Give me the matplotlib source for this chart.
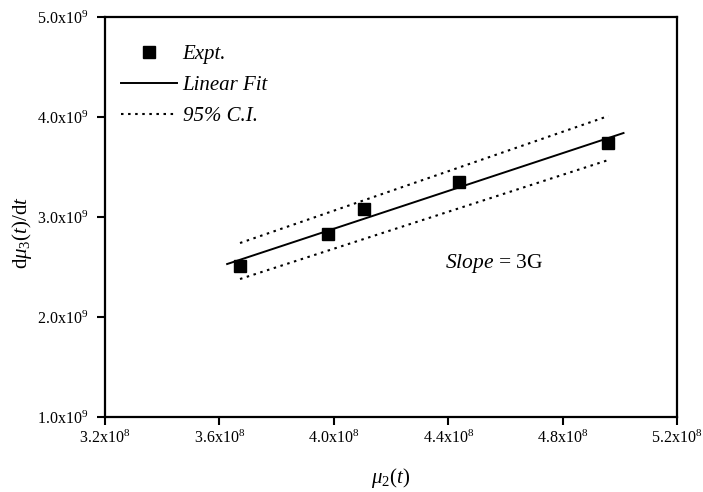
import matplotlib
matplotlib.use("Agg")
import matplotlib.pyplot as plt

plt.rcParams["font.family"] = ["Liberation Serif", "DejaVu Serif"]
plt.rcParams["mathtext.fontset"] = "custom"
plt.rcParams["mathtext.rm"] = "Liberation Serif"
plt.rcParams["mathtext.it"] = "Liberation Serif:italic"

# measured second moment and growth rate of the third moment
mu2 = [3.672e8, 3.980e8, 4.106e8, 4.439e8, 4.960e8]
dmu3_dt = [2.51e9, 2.83e9, 3.08e9, 3.35e9, 3.74e9]

# least-squares line and its 95% confidence band (end points)
fit_x = [3.627e8, 5.013e8]
fit_y = [2.53e9, 3.84e9]
ci_x = [3.672e8, 4.960e8]
ci_upper = [2.74e9, 4.01e9]
ci_lower = [2.38e9, 3.57e9]

x_ticks = [3.2e8, 3.6e8, 4.0e8, 4.4e8, 4.8e8, 5.2e8]
y_ticks = [1.0e9, 2.0e9, 3.0e9, 4.0e9, 5.0e9]


def main():
    fig = plt.figure(figsize=(7.03, 4.92), dpi=100)
    ax = fig.add_axes([0.1494, 0.1524, 0.8136, 0.813])

    dotted = (0, (1.2, 2.2))
    ax.plot(fit_x, fit_y, color="black", lw=1.4, label="Linear Fit", zorder=2)
    ax.plot(ci_x, ci_upper, color="black", lw=1.5, ls=dotted, label="95% C.I.", zorder=2)
    ax.plot(ci_x, ci_lower, color="black", lw=1.5, ls=dotted, zorder=2)
    ax.plot(mu2, dmu3_dt, ls="none", marker="s", ms=8.5, color="black",
            label="Expt.", zorder=3)

    ax.set_xlim(x_ticks[0], x_ticks[-1])
    ax.set_ylim(y_ticks[0], y_ticks[-1])
    ax.set_xticks(x_ticks)
    ax.set_xticklabels([f"{v / 1e8:.1f}x10$^8$" for v in x_ticks])
    ax.set_yticks(y_ticks)
    ax.set_yticklabels([f"{v / 1e9:.1f}x10$^9$" for v in y_ticks])
    ax.tick_params(direction="out", length=6, width=1.5, labelsize=11.5)
    ax.tick_params(axis="y", pad=6)
    ax.tick_params(axis="x", pad=3)

    for side in ax.spines.values():
        side.set_linewidth(1.6)

    ax.set_xlabel(r"$\mu_2(t)$", fontsize=15, labelpad=14)
    ax.set_ylabel(r"d$\mu_3(t)$/d$t$", fontsize=15)
    ax.yaxis.set_label_coords(-0.125, 0.46)

    ax.text(4.561e8, 2.54e9, r"$\mathit{Slope}$ = 3G", fontsize=15.5,
            ha="center", va="center")

    handles, labels = ax.get_legend_handles_labels()
    order = [2, 0, 1]
    ax.legend([handles[i] for i in order], [labels[i] for i in order],
              loc="upper left", bbox_to_anchor=(0.028, 0.932), frameon=False,
              borderpad=0, borderaxespad=0, handlelength=2.7, handletextpad=0.25,
              labelspacing=0.56, numpoints=1,
              prop={"style": "italic", "size": 15})

    fig.savefig("out.png", dpi=100)


if __name__ == "__main__":
    main()
